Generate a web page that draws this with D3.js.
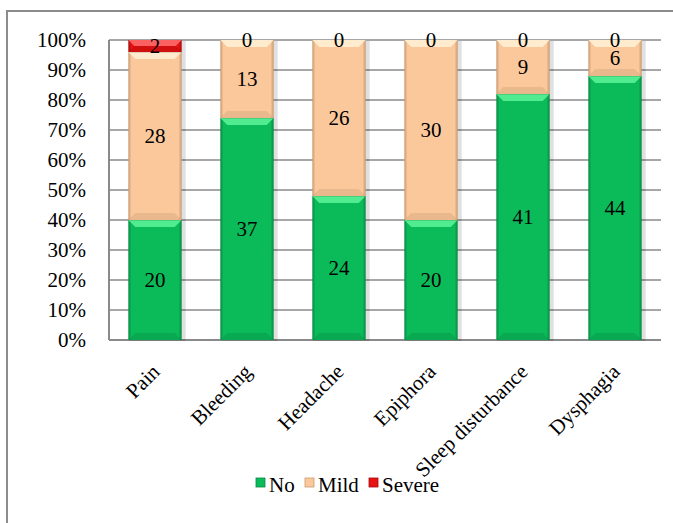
<!DOCTYPE html>
<html>
<head>
<meta charset="utf-8">
<script src="https://cdn.jsdelivr.net/npm/d3@7/dist/d3.min.js"></script>
</head>
<body style="margin:0;background:#fff">
<div id="chart"></div>
<script>
// data
let categories = ["Pain", "Bleeding", "Headache", "Epiphora", "Sleep disturbance", "Dysphagia"];
let noValues = [20, 37, 24, 20, 41, 44];
let mildValues = [28, 13, 26, 30, 9, 6];
let severeValues = [2, 0, 0, 0, 0, 0];
let seriesNames = ["No", "Mild", "Severe"];
let yTicks = [0, 0.1, 0.2, 0.3, 0.4, 0.5, 0.6, 0.7, 0.8, 0.9, 1];

let colors = {No: "#0bbb5a", Mild: "#fbc89c", Severe: "#e81212"};
let light = {No: "#5ef59a", Mild: "#fff1d6", Severe: "#ff7070"};
let dark = {No: "#078a41", Mild: "#c99a70", Severe: "#a50c0c"};

let FONT = "'Liberation Serif', 'Times New Roman', serif";
let FS = "21px";

let W = 673, H = 523;
let margin = {top: 40, left: 109, right: 12, bottom: 183};
let width = W - margin.left - margin.right,
    height = H - margin.top - margin.bottom;

let svg = d3.select("#chart").append("svg")
  .attr("width", W).attr("height", H)
  .style("font-family", FONT);

// outer chart border (cut at the right and bottom like the reference)
svg.append("rect")
  .attr("x", 7).attr("y", 11)
  .attr("width", 700).attr("height", 540)
  .attr("fill", "none").attr("stroke", "#8c8c8c").attr("stroke-width", 2);

let g = svg.append("g").attr("transform", "translate(" + margin.left + "," + margin.top + ")");

// build stacked table
let table = categories.map(function(c, i) {
  let total = noValues[i] + mildValues[i] + severeValues[i];
  return {cat: c, No: noValues[i], Mild: mildValues[i], Severe: severeValues[i], total: total};
});
let pct = table.map(function(d) {
  return {cat: d.cat, No: d.No / d.total, Mild: d.Mild / d.total, Severe: d.Severe / d.total,
          raw: d};
});
let stack = d3.stack().keys(seriesNames)(pct);

let x = d3.scaleBand().domain(categories).range([0, width]).paddingInner(0.42).paddingOuter(0.21);
let y = d3.scaleLinear().domain([0, 1]).range([height, 0]);

// gridlines
g.append("g").selectAll("line")
  .data(yTicks.slice(1))
  .enter().append("line")
  .attr("x1", 0).attr("x2", width)
  .attr("y1", function(d) { return y(d); })
  .attr("y2", function(d) { return y(d); })
  .attr("stroke", "#8a8a8a").attr("stroke-width", 1.5);

// y axis
let yAxis = g.append("g")
  .call(d3.axisLeft(y).tickValues(yTicks).tickFormat(d3.format(".0%")).tickSize(0).tickPadding(23));
yAxis.attr("font-family", null).attr("font-size", null);
yAxis.select(".domain").remove();
yAxis.selectAll("text").style("font-size", FS).style("font-family", FONT).attr("fill", "#000");

// axis lines
g.append("line").attr("x1", 0).attr("x2", 0).attr("y1", 0).attr("y2", height)
  .attr("stroke", "#8a8a8a").attr("stroke-width", 2);
g.append("line").attr("x1", 0).attr("x2", width).attr("y1", height).attr("y2", height)
  .attr("stroke", "#8a8a8a").attr("stroke-width", 2);

// gradients for the bevelled bars
let defs = svg.append("defs");
seriesNames.forEach(function(k) {
  let lg = defs.append("linearGradient").attr("id", "grad" + k)
    .attr("x1", "0").attr("x2", "1").attr("y1", "0").attr("y2", "0");
  lg.append("stop").attr("offset", "0").attr("stop-color", dark[k]);
  lg.append("stop").attr("offset", "0.06").attr("stop-color", colors[k]);
  lg.append("stop").attr("offset", "0.94").attr("stop-color", colors[k]);
  lg.append("stop").attr("offset", "1").attr("stop-color", dark[k]);
});

let bw = x.bandwidth();
let bevel = 7;

stack.forEach(function(s) {
  let key = s.key;
  let layer = g.append("g");
  let segs = s.filter(function(d) { return d[1] - d[0] > 0; });
  // shadow
  layer.selectAll("rect.sh").data(segs).enter().append("rect")
    .attr("x", function(d) { return x(d.data.cat) + 2; })
    .attr("y", function(d) { return y(d[1]) + 1; })
    .attr("width", bw + 2)
    .attr("height", function(d) { return y(d[0]) - y(d[1]); })
    .attr("fill", "#000").attr("opacity", 0.12);
  layer.selectAll("rect.bar").data(segs).enter().append("rect")
    .attr("x", function(d) { return x(d.data.cat); })
    .attr("y", function(d) { return y(d[1]); })
    .attr("width", bw)
    .attr("height", function(d) { return y(d[0]) - y(d[1]); })
    .attr("fill", "url(#grad" + key + ")");
  // top bevel
  layer.selectAll("path.top").data(segs).enter().append("path")
    .attr("d", function(d) {
      let x0 = x(d.data.cat), y0 = y(d[1]);
      let b = Math.min(bevel, (y(d[0]) - y(d[1])) / 2);
      return "M" + x0 + "," + y0 + "H" + (x0 + bw) + "L" + (x0 + bw - b) + "," + (y0 + b) +
             "H" + (x0 + b) + "Z";
    })
    .attr("fill", light[key]).attr("opacity", 0.85);
  // bottom bevel
  layer.selectAll("path.bot").data(segs).enter().append("path")
    .attr("d", function(d) {
      let x0 = x(d.data.cat), y1 = y(d[0]);
      let b = Math.min(bevel, (y(d[0]) - y(d[1])) / 2);
      return "M" + x0 + "," + y1 + "H" + (x0 + bw) + "L" + (x0 + bw - b) + "," + (y1 - b) +
             "H" + (x0 + b) + "Z";
    })
    .attr("fill", dark[key]).attr("opacity", 0.35);
});

// value labels
stack.forEach(function(s) {
  g.append("g").selectAll("text").data(s).enter().append("text")
    .attr("x", function(d) { return x(d.data.cat) + bw / 2; })
    .attr("y", function(d) { return (y(d[0]) + y(d[1])) / 2; })
    .attr("dy", "0.35em")
    .attr("text-anchor", "middle")
    .style("font-family", FONT)
    .style("font-size", FS)
    .text(function(d) { return d.data.raw[s.key]; });
});

// category labels
g.append("g").selectAll("text").data(categories).enter().append("text")
  .attr("transform", function(d) {
    return "translate(" + (x(d) + bw / 2 + 6) + "," + (height + 33) + ") rotate(-45)";
  })
  .attr("text-anchor", "end")
  .style("font-family", FONT)
  .style("font-size", FS)
  .text(function(d) { return d; });

// legend
let markerX = [256, 305, 369];
let legend = svg.append("g");
seriesNames.forEach(function(k, i) {
  legend.append("rect").attr("x", markerX[i]).attr("y", 478).attr("width", 9).attr("height", 9)
    .attr("fill", colors[k]).attr("stroke", dark[k]).attr("stroke-width", 0.8);
  legend.append("text").attr("x", markerX[i] + 13).attr("y", 492)
    .style("font-family", FONT)
    .style("font-size", FS).text(k);
});
</script>
</body>
</html>
